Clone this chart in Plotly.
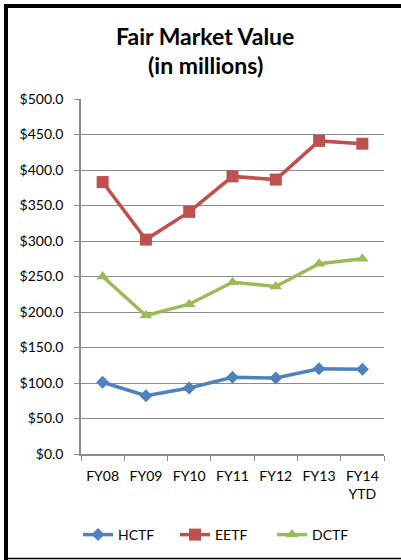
import plotly.graph_objects as go

categories = ["FY08", "FY09", "FY10", "FY11", "FY12", "FY13", "FY14"]
tick_labels = ["FY08", "FY09", "FY10", "FY11", "FY12", "FY13", "FY14<br>YTD"]
hctf = [101, 82, 93, 108, 107, 120, 119.5]
eetf = [383, 302, 341, 391, 386.5, 441, 437]
dctf = [250, 195, 211, 242, 236, 268, 275]
y_ticks = [0, 50, 100, 150, 200, 250, 300, 350, 400, 450, 500]
y_tick_labels = ["$%.1f" % v for v in y_ticks]

W, H = 401, 560
ML, MR, MT, MB = 81, 17, 99, 106
PW, PH = W - ML - MR, H - MT - MB

def px(x):
    return (x - ML) / PW

def py(y):
    return (H - MB - y) / PH

FONT = "Lato"
fig = go.Figure()
series = [
    ("HCTF", hctf, "#4F81BD", "diamond", 10),
    ("EETF", eetf, "#C0504D", "square", 12),
    ("DCTF", dctf, "#9BBB59", "triangle-up", 11),
]
for name, vals, color, sym, size in series:
    fig.add_trace(go.Scatter(
        x=categories, y=vals, name=name, mode="lines+markers",
        line=dict(color=color, width=3.5),
        marker=dict(symbol=sym, size=size, color=color),
    ))

fig.update_layout(
    width=W, height=H,
    margin=dict(l=ML, r=MR, t=MT, b=MB, autoexpand=False),
    paper_bgcolor="white", plot_bgcolor="white",
    font=dict(family=FONT, size=14, color="black"),
    showlegend=True,
    legend=dict(orientation="h", x=px(78), xanchor="left", y=py(535), yanchor="middle",
                font=dict(size=14, family=FONT), itemwidth=30, tracegroupgap=0,
                entrywidth=52, entrywidthmode="pixels"),
    xaxis=dict(type="category", range=[-0.5, 6.5], tickmode="array",
               tickvals=categories, ticktext=tick_labels, tickson="boundaries",
               ticks="outside", ticklen=5, tickcolor="#8c8c8c", showgrid=False,
               showline=True, linecolor="#8c8c8c", linewidth=1.5,
               ticklabelstandoff=8,
               tickfont=dict(size=14, family=FONT)),
    yaxis=dict(range=[0, 500], tickmode="array", tickvals=y_ticks, ticktext=y_tick_labels,
               ticks="outside", ticklen=5, tickcolor="#8c8c8c",
               showgrid=True, gridcolor="#8c8c8c", gridwidth=1.2,
               showline=True, linecolor="#8c8c8c", linewidth=1.5, zeroline=False,
               ticklabelstandoff=8,
               tickfont=dict(size=14, family=FONT)),
    annotations=[
        dict(text="<b>Fair Market Value</b>", x=px(205), y=py(36), xref="paper", yref="paper",
             xanchor="center", yanchor="middle", showarrow=False, font=dict(size=23, family=FONT)),
        dict(text="<b>(in millions)</b>", x=px(205), y=py(65), xref="paper", yref="paper",
             xanchor="center", yanchor="middle", showarrow=False, font=dict(size=23, family=FONT)),
    ],
    shapes=[
        dict(type="line", xref="paper", yref="paper", x0=px(6), x1=px(6), y0=py(4), y1=py(562),
             line=dict(color="black", width=4)),
        dict(type="line", xref="paper", yref="paper", x0=px(4), x1=px(405), y0=py(6), y1=py(6),
             line=dict(color="black", width=4)),
        dict(type="line", xref="paper", yref="paper", x0=px(4), x1=px(405), y0=py(558.5), y1=py(558.5),
             line=dict(color="black", width=1.5)),
    ],
)

fig.write_html("out.html", config={"displayModeBar": False},
               post_script="document.body.style.margin='0';document.body.style.overflow='hidden';")
